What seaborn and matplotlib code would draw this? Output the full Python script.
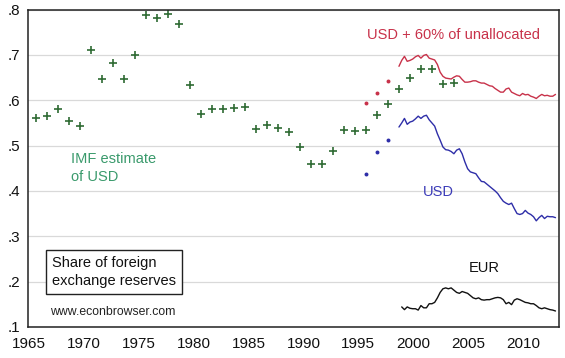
import numpy as np
import pandas as pd
import seaborn as sns
import matplotlib.pyplot as plt
from matplotlib.ticker import MultipleLocator, FuncFormatter

# annual IMF estimate of USD share (green crosses)
imf_years = list(range(1965, 2004))
imf_usd = [0.562, 0.565, 0.580, 0.555, 0.544, 0.710, 0.647, 0.683, 0.647, 0.700,
           0.789, 0.781, 0.791, 0.768, 0.634, 0.570, 0.580, 0.580, 0.583, 0.586,
           0.536, 0.546, 0.539, 0.531, 0.497, 0.460, 0.460, 0.488, 0.534, 0.532,
           0.534, 0.567, 0.592, 0.626, 0.649, 0.668, 0.670, 0.636, 0.639]

# annual COFER points before the quarterly series starts
dot_years = [1995, 1996, 1997]
dot_usd60 = [0.593, 0.615, 0.643]
dot_usd = [0.438, 0.486, 0.512]

# quarterly series, 1998Q4 .. 2013Q1
usd60 = [0.675, 0.688, 0.697, 0.686, 0.688, 0.691, 0.696, 0.699, 0.693, 0.699,
         0.701, 0.693, 0.691, 0.689, 0.679, 0.662, 0.653, 0.649, 0.648, 0.647,
         0.651, 0.654, 0.653, 0.646, 0.640, 0.640, 0.641, 0.643, 0.643, 0.640,
         0.638, 0.638, 0.635, 0.632, 0.631, 0.626, 0.622, 0.618, 0.618, 0.625,
         0.627, 0.618, 0.615, 0.612, 0.610, 0.615, 0.612, 0.613, 0.609, 0.607,
         0.604, 0.609, 0.613, 0.610, 0.611, 0.609, 0.609, 0.613]
usd = [0.541, 0.550, 0.560, 0.547, 0.552, 0.554, 0.559, 0.565, 0.560, 0.565,
       0.567, 0.557, 0.550, 0.543, 0.526, 0.512, 0.497, 0.491, 0.490, 0.487,
       0.482, 0.490, 0.493, 0.482, 0.464, 0.449, 0.442, 0.440, 0.438, 0.429,
       0.421, 0.420, 0.415, 0.410, 0.405, 0.400, 0.394, 0.385, 0.377, 0.373,
       0.370, 0.373, 0.361, 0.350, 0.348, 0.350, 0.357, 0.351, 0.348, 0.343,
       0.334, 0.341, 0.346, 0.339, 0.344, 0.343, 0.343, 0.341]
# euro starts one quarter later
eur = [np.nan,
       0.144, 0.138, 0.144, 0.141, 0.140, 0.140, 0.137, 0.147, 0.142, 0.142,
       0.151, 0.151, 0.154, 0.164, 0.176, 0.184, 0.186, 0.184, 0.186, 0.181,
       0.176, 0.174, 0.178, 0.176, 0.174, 0.169, 0.164, 0.162, 0.164, 0.160,
       0.159, 0.160, 0.160, 0.162, 0.164, 0.165, 0.164, 0.160, 0.151, 0.154,
       0.149, 0.159, 0.162, 0.160, 0.157, 0.154, 0.153, 0.151, 0.151, 0.147,
       0.142, 0.140, 0.142, 0.140, 0.138, 0.137, 0.135]

# annual obs are drawn at the fourth quarter of the year
offset = 0.7
qdf = pd.DataFrame({'t': 1998 + offset + 0.25 * np.arange(len(usd)),
                    'usd60': usd60, 'usd': usd, 'eur': eur})
adf = pd.DataFrame({'t': np.array(imf_years) + offset, 'imf': imf_usd})
ddf = pd.DataFrame({'t': np.array(dot_years) + offset,
                    'usd60': dot_usd60, 'usd': dot_usd})

sns.set_style('white')
plt.rcParams['font.family'] = ['Liberation Sans', 'DejaVu Sans']

red = '#c8324a'
blue = '#2e2ea8'
green = '#2f6b34'

fig = plt.figure(figsize=(5.65, 3.58), dpi=100)
ax = fig.add_axes([0.050, 0.087, 0.939, 0.886])

sns.lineplot(data=qdf, x='t', y='usd60', color=red, linewidth=1.0, ax=ax)
sns.lineplot(data=qdf, x='t', y='usd', color=blue, linewidth=1.0, ax=ax)
sns.lineplot(data=qdf, x='t', y='eur', color='#111111', linewidth=1.0, ax=ax)
sns.scatterplot(data=adf, x='t', y='imf', marker='+', color=green, s=28,
                linewidth=1.2, ax=ax)
sns.scatterplot(data=ddf, x='t', y='usd60', color=red, s=8, linewidth=0, ax=ax)
sns.scatterplot(data=ddf, x='t', y='usd', color=blue, s=8, linewidth=0, ax=ax)

ax.set_xlim(1964.95, 2013.25)
ax.set_ylim(0.1, 0.8)
ax.set_xlabel('')
ax.set_ylabel('')
ax.xaxis.set_major_locator(MultipleLocator(5))
ax.xaxis.set_minor_locator(MultipleLocator(1))
ax.yaxis.set_major_locator(MultipleLocator(0.1))
ax.yaxis.set_major_formatter(FuncFormatter(lambda v, p: f'{v:.1f}'.lstrip('0')))
ax.tick_params(axis='both', which='major', direction='out', length=4, width=1,
               color='#222222', labelsize=11, labelcolor='#111111', pad=2)
ax.tick_params(axis='x', which='minor', direction='out', length=3, width=1,
               color='#222222')
ax.tick_params(axis='x', which='major', length=5)
ax.yaxis.grid(True, color='#d9d9d9', linewidth=0.9)
ax.set_axisbelow(True)
for s in ax.spines.values():
    s.set_color('#222222')
    s.set_linewidth(1.1)

ax.text(2003.7, 0.745, 'USD + 60% of unallocated', color=red, fontsize=10.5,
        ha='center', va='center')
ax.text(1968.8, 0.451, 'IMF estimate\nof USD', color='#3a9a6c', fontsize=10.5,
        ha='left', va='center', linespacing=1.38)
ax.text(2002.3, 0.398, 'USD', color='#3c3cb8', fontsize=10.5, ha='center', va='center')
ax.text(2006.5, 0.230, 'EUR', color='#111111', fontsize=10.5, ha='center', va='center')
ax.text(1967.1, 0.221, 'Share of foreign\nexchange reserves', color='#111111',
        fontsize=10.5, ha='left', va='center', linespacing=1.3,
        bbox=dict(boxstyle='square,pad=0.42', fc='white', ec='#222222', lw=1.0))
ax.text(1966.9, 0.132, 'www.econbrowser.com', color='#222222', fontsize=8.8,
        ha='left', va='center')

fig.savefig('out.png', dpi=100)
plt.close(fig)
